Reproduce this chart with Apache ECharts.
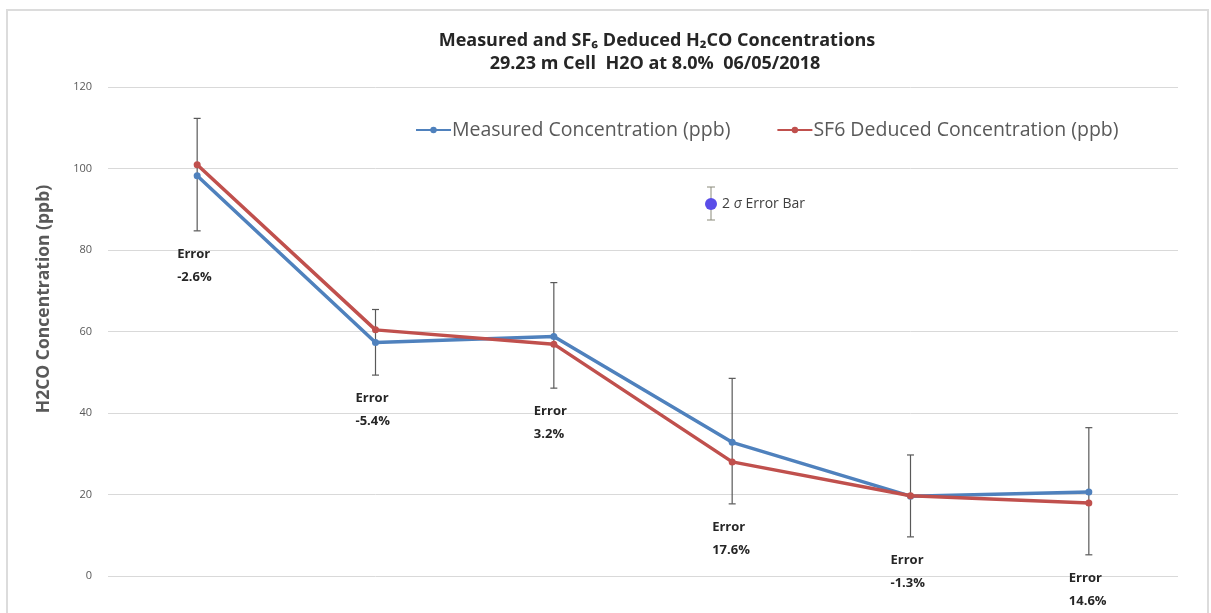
<!DOCTYPE html>
<html>
<head>
<meta charset="utf-8">
<script src="https://cdn.jsdelivr.net/npm/echarts@6/dist/echarts.min.js"></script>
<style>
  html, body { margin: 0; padding: 0; background: #ffffff; }
  #chart { width: 1211px; height: 613px; }
</style>
</head>
<body>
<div id="chart"></div>
<script>
// ---- data ----
const categories = ['1', '2', '3', '4', '5', '6'];
const measured = [98.2, 57.3, 58.8, 32.8, 19.6, 20.6];
const deduced = [100.9, 60.4, 56.9, 28.0, 19.7, 17.9];
const errLow = [84.7, 49.3, 46.1, 17.7, 9.6, 5.2];
const errHigh = [112.3, 65.4, 72.0, 48.5, 29.7, 36.4];
const errorPct = ['-2.6%', '-5.4%', '3.2%', '17.6%', '-1.3%', '14.6%'];
const yMin = 0, yMax = 120, yStep = 20;

const FONT = '"Open Sans", "Noto Sans", sans-serif';
const chart = echarts.init(document.getElementById('chart'), null, { renderer: 'canvas' });

const errData = categories.map((c, i) => [i, errLow[i], errHigh[i], errorPct[i]]);

const option = {
  backgroundColor: '#ffffff',
  animation: false,
  title: [{
    text: 'Measured and SF\u2086 Deduced H\u2082CO Concentrations',
    left: 652, top: 27, textAlign: 'center',
    textStyle: { fontFamily: FONT, fontSize: 18, fontWeight: 'bold', color: '#262626' }
  }, {
    text: '29.23 m Cell  H2O at 8.0%  06/05/2018',
    left: 650, top: 50, textAlign: 'center',
    textStyle: { fontFamily: FONT, fontSize: 18, fontWeight: 'bold', color: '#262626' }
  }],
  legend: {
    left: 410, top: 115,
    itemWidth: 35, itemHeight: 8, itemGap: 46,
    textStyle: { fontFamily: FONT, fontSize: 19.5, color: '#595959', padding: [0, 0, 0, -4] },
    data: ['Measured Concentration (ppb)', 'SF6 Deduced Concentration (ppb)']
  },
  grid: { left: 108, right: 33, top: 87, bottom: 37 },
  xAxis: {
    type: 'category', data: categories, boundaryGap: true,
    axisLine: { show: false }, axisTick: { show: false }, axisLabel: { show: false }
  },
  yAxis: {
    type: 'value', min: yMin, max: yMax, interval: yStep,
    axisLine: { show: false }, axisTick: { show: false },
    axisLabel: { fontFamily: FONT, fontSize: 11, color: '#595959', margin: 16 },
    splitLine: { lineStyle: { color: '#d9d9d9', width: 1 } }
  },
  graphic: [
    { type: 'rect', shape: { x: 7, y: 10, width: 1201, height: 620 },
      style: { fill: 'none', stroke: '#dcdcdc', lineWidth: 2 }, silent: true, z: -1 },
    { type: 'text', x: 44, y: 299, rotation: Math.PI / 2,
      style: { text: 'H2CO Concentration (ppb)', fontFamily: FONT, fontSize: 17.5, fontWeight: 'bold',
               fill: '#595959', align: 'center', verticalAlign: 'middle' } },
    // 2-sigma error bar key
    { type: 'line', shape: { x1: 711, y1: 187, x2: 711, y2: 220 }, style: { stroke: '#8a8a7a', lineWidth: 1 } },
    { type: 'line', shape: { x1: 707, y1: 187, x2: 715, y2: 187 }, style: { stroke: '#8a8a7a', lineWidth: 1 } },
    { type: 'line', shape: { x1: 707, y1: 220, x2: 715, y2: 220 }, style: { stroke: '#8a8a7a', lineWidth: 1 } },
    { type: 'circle', shape: { cx: 711, cy: 204, r: 6 }, style: { fill: '#5a4de8' } },
    { type: 'text', x: 722, y: 204,
      style: { text: '{n|2 }{s|\u03c3}{n| Error Bar}', verticalAlign: 'middle',
               rich: { n: { fontFamily: FONT, fontSize: 14, fill: '#404040' },
                       s: { fontFamily: FONT, fontSize: 14, fontStyle: 'italic', fill: '#404040' } } } }
  ],
  series: [
    {
      type: 'custom', name: 'err', z: 1, silent: true,
      data: errData,
      renderItem: function (params, api) {
        const x = api.coord([api.value(0), 0])[0];
        const lo = api.coord([api.value(0), api.value(1)])[1];
        const hi = api.coord([api.value(0), api.value(2)])[1];
        const st = { stroke: '#595959', lineWidth: 1.2 };
        return {
          type: 'group',
          children: [
            { type: 'line', shape: { x1: x, y1: hi, x2: x, y2: lo }, style: st },
            { type: 'line', shape: { x1: x - 3.5, y1: hi, x2: x + 3.5, y2: hi }, style: st },
            { type: 'line', shape: { x1: x - 3.5, y1: lo, x2: x + 3.5, y2: lo }, style: st },
            { type: 'text', x: x - 20, y: lo + 12,
              style: { text: 'Error\n' + api.value(3), fontFamily: FONT, fontSize: 13, fontWeight: 'bold',
                       fill: '#262626', lineHeight: 23, align: 'left', verticalAlign: 'top' } }
          ]
        };
      },
      encode: { x: 0, y: [1, 2] }
    },
    {
      name: 'Measured Concentration (ppb)', type: 'line', z: 3,
      data: measured, symbol: 'circle', symbolSize: 7,
      lineStyle: { color: '#4f81bd', width: 3.5 },
      itemStyle: { color: '#4f81bd' }
    },
    {
      name: 'SF6 Deduced Concentration (ppb)', type: 'line', z: 4,
      data: deduced, symbol: 'circle', symbolSize: 7,
      lineStyle: { color: '#c0504d', width: 3.5 },
      itemStyle: { color: '#c0504d' }
    }
  ]
};
chart.setOption(option);
</script>
</body>
</html>
